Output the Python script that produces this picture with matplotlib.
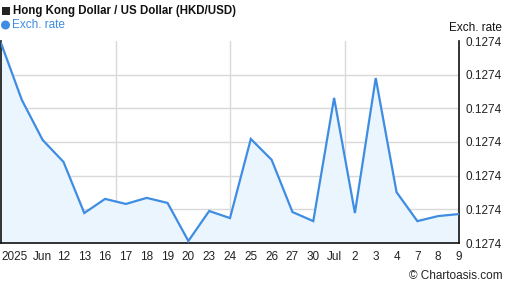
import matplotlib
matplotlib.use("Agg")
import matplotlib.pyplot as plt
from matplotlib.ticker import FuncFormatter
from matplotlib.patches import Rectangle, Ellipse

plt.rcParams['font.family'] = ['Liberation Sans', 'DejaVu Sans']

# Data (HKD/USD exchange rate, daily)
dates = ["Jun 9", "Jun 10", "Jun 11", "Jun 12", "Jun 13", "Jun 16", "Jun 17", "Jun 18",
         "Jun 19", "Jun 20", "Jun 23", "Jun 24", "Jun 25", "Jun 26", "Jun 27", "Jun 30",
         "Jul 1", "Jul 2", "Jul 3", "Jul 4", "Jul 7", "Jul 8", "Jul 9"]
rates = [0.12739194, 0.12739025, 0.12738906, 0.12738841, 0.12738689, 0.12738731,
         0.12738716, 0.12738734, 0.12738719, 0.12738606, 0.12738695, 0.12738674,
         0.12738909, 0.12738847, 0.12738692, 0.12738665, 0.12739031, 0.12738689,
         0.12739090, 0.12738751, 0.12738665, 0.12738680, 0.12738686]
tick_idx = [0, 2, 3, 4, 5, 6, 7, 8, 9, 10, 11, 12, 13, 14, 15, 16, 17, 18, 19, 20, 21, 22]
tick_labels = ["2025", "Jun", "12", "13", "16", "17", "18", "19", "20", "23", "24", "25",
               "26", "27", "30", "Jul", "2", "3", "4", "7", "8", "9"]
y_ticks = [0.127386, 0.127387, 0.127388, 0.127389, 0.127390, 0.127391, 0.127392]

W, H = 507, 288
fig = plt.figure(figsize=(W / 100, H / 100), dpi=100)
ax = fig.add_axes([1 / W, 1 - 243 / H, 458 / W, 202 / H])

x = list(range(len(rates)))
line_color = "#3f8de3"
ax.fill_between(x, rates, y_ticks[0], color="#eaf5fe", zorder=1)
ax.plot(x, rates, color=line_color, lw=1.6, zorder=3, solid_joinstyle='miter')

ax.set_xlim(0, len(rates) - 1)
ax.set_ylim(y_ticks[0], y_ticks[-1])

# grid
for yv in y_ticks[1:-1]:
    ax.axhline(yv, color="#d9d9d9", lw=1, zorder=0)
for xv in [5.5, 11, 16.5]:
    ax.axvline(xv, color="#d9d9d9", lw=1, zorder=0)

ax.yaxis.tick_right()
ax.set_yticks(y_ticks)
ax.yaxis.set_major_formatter(FuncFormatter(lambda v, p: f"{v:.4f}"))
ax.tick_params(axis='y', length=0, pad=5, labelsize=8.5, labelcolor="#222222")

ax.set_xticks(tick_idx)
ax.set_xticklabels(tick_labels)
ax.tick_params(axis='x', length=0, pad=6, labelsize=8.5, labelcolor="#222222")
for lab in ax.get_xticklabels():
    if lab.get_text() == "2025":
        lab.set_ha('left')

for s in ['left', 'bottom', 'right']:
    ax.spines[s].set_color("#111111")
    ax.spines[s].set_linewidth(1.2)
ax.spines['top'].set_visible(False)

# legend / title markers
fig.patches.append(Rectangle((2 / W, 1 - 15 / H), 8 / W, 8 / H, transform=fig.transFigure,
                             facecolor="#222222", edgecolor="none"))
fig.patches.append(Ellipse((5.5 / W, 1 - 25 / H), 9 / W, 9 / H, transform=fig.transFigure,
                           facecolor=line_color, edgecolor="none"))

# texts
fig.text(13 / W, 1 - 11 / H, "Hong Kong Dollar / US Dollar (HKD/USD)", fontsize=8.3,
         fontweight='bold', color="#111111", va='center', ha='left')
fig.text(12 / W, 1 - 25 / H, "Exch. rate", fontsize=8.5, color=line_color, va='center', ha='left')
fig.text(502 / W, 1 - 28 / H, "Exch. rate", fontsize=8.5, color="#111111", va='center', ha='right')
fig.text(503 / W, 1 - 276 / H, "\u00A9 Chartoasis.com", fontsize=8.5, color="#222222",
         va='center', ha='right')

fig.savefig("out.png", dpi=100)
